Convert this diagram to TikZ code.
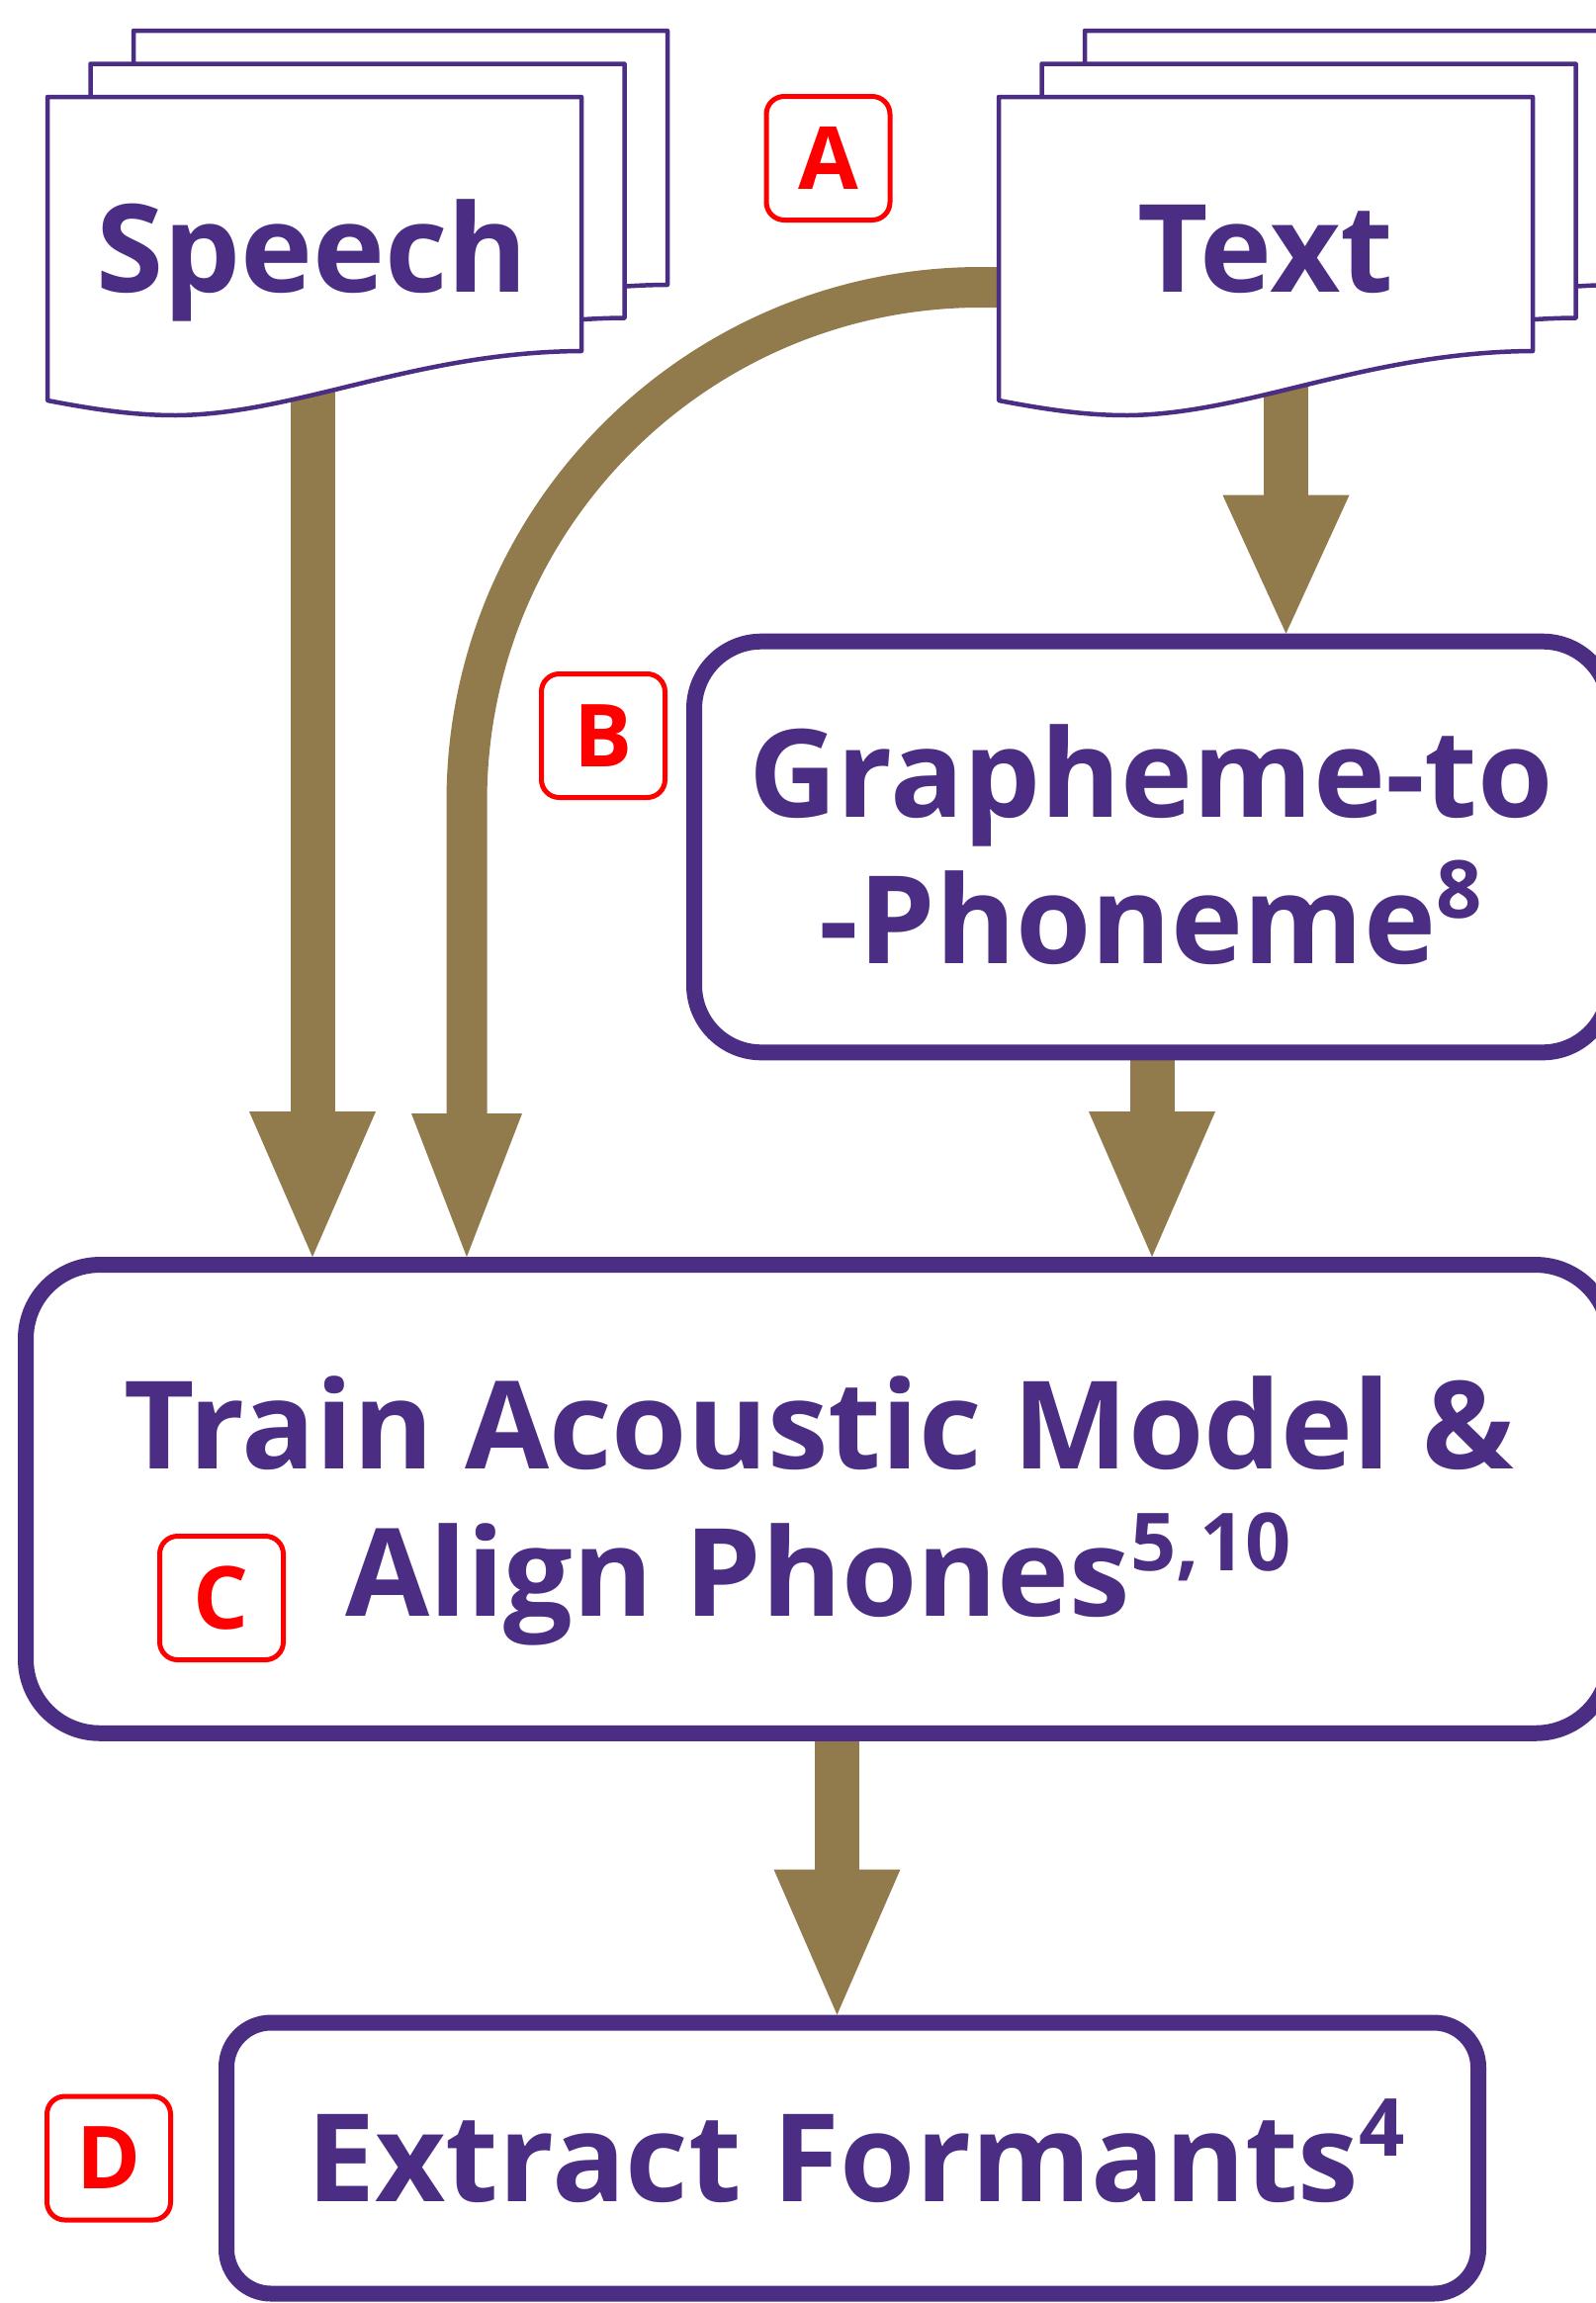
\documentclass[tikz,border=0pt]{standalone}
\usepackage{fontspec}
\setmainfont{Open Sans}
\usetikzlibrary{arrows.meta,backgrounds}
\definecolor{uwpurple}{HTML}{4B2E83}
\definecolor{uwgold}{HTML}{917B4C}
% superscript reference numbers
\newcommand\supnum[1]{\raisebox{46pt}{\fontsize{81}{81}\selectfont #1}}
% one sheet of a document stack, top-left corner at (#1,#2)
\newcommand\docsheet[2]{%
  \draw[docline,shift={(#1,#2)}] (0,0) -- (540,0) -- (540,257)
    .. controls (372,258) and (252,321) .. (130,322)
    .. controls (87,322) and (47,316) .. (0,307) -- cycle;}
\tikzset{
  docline/.style={draw=uwpurple, line width=4.5pt, fill=white, line join=round},
  stage/.style={draw=uwpurple, line width=16pt, fill=white, rounded corners=#1, inner sep=0pt},
  mainlbl/.style={text=uwpurple, font=\bfseries\fontsize{123.5}{148}\selectfont, inner sep=0pt, anchor=base},
  tag/.style={draw=red, line width=5pt, rounded corners=18pt, minimum size=125pt, inner sep=0pt,
    text=red, font=\bfseries\fontsize{88}{88}\selectfont},
  flow/.style={draw=uwgold, line width=45pt, -{Triangle[length=147pt,width=128pt,line width=0pt]}},
}
\begin{document}
\begin{tikzpicture}[x=1pt,y=-1pt]
\useasboundingbox (0,0) rectangle (1614,2329);
\clip (0,0) rectangle (1614,2329);

% processing stages
\node[stage=68pt, minimum width=926pt, minimum height=415.6pt] (g2p) at (1165,856.5) {};
\node[stage=75pt, minimum width=1602pt, minimum height=473.7pt] (train) at (827,1515.9) {};
\node[stage=45pt, minimum width=1266pt, minimum height=274pt] (formants) at (862,2182.5) {};

% flow arrows, kept behind the documents
\begin{scope}[on background layer]
  \coordinate (spsrc) at (316,380);
  \draw[flow] (spsrc) -- (spsrc |- train.north);
  \coordinate (txdown) at (1300.5,380);
  \draw[flow, -{Triangle[length=140pt,width=128pt,line width=0pt]}] (txdown) -- (txdown |- g2p.north);
  \coordinate (txsrc) at (1030,290.5);
  \coordinate (curvefoot) at (472,810.5);
  \draw[flow, line width=41pt, -{Triangle[length=145pt,width=112pt,line width=0pt]}]
    (txsrc) -- (992,290.5) .. controls (704.8,290.5) and (472,523.3) .. (curvefoot)
    -- (curvefoot |- train.north);
  \draw[flow] (g2p.south) -- (g2p.south |- train.north);
  \coordinate (trx) at ([xshift=19.5pt]train.south);
  \draw[flow] (trx) -- (trx |- formants.north);
\end{scope}

% document stacks
\docsheet{135}{31}
\docsheet{91.5}{64.5}
\docsheet{48}{98}
\docsheet{1097}{31}
\docsheet{1053.5}{64.5}
\docsheet{1010}{98}

% labels
\node[mainlbl] (speechlbl) at (315.5,295) {Speech};
\node[mainlbl] (textlbl) at (1280,295) {Text};
\node[mainlbl] (g2plineA) at (1164,826.7) {Grapheme-to};
\node[mainlbl] (g2plineB) at (1163.5,974) {-Phoneme\supnum{8}};
\node[mainlbl] (trainlineA) at (828.6,1485.7) {Train Acoustic Model \&};
\node[mainlbl] (trainlineB) at (827.5,1634) {Align Phones\supnum{5,10}};
\node[mainlbl] (formantslbl) at (865.5,2226.7) {Extract Formants\supnum{4}};

% step markers
\node[tag] (tagA) at (837.5,160) {A};
\node[tag] (tagB) at (610,744) {B};
\node[tag] (tagC) at (224,1616) {C};
\node[tag] (tagD) at (110,2182.5) {D};
\end{tikzpicture}
\end{document}
